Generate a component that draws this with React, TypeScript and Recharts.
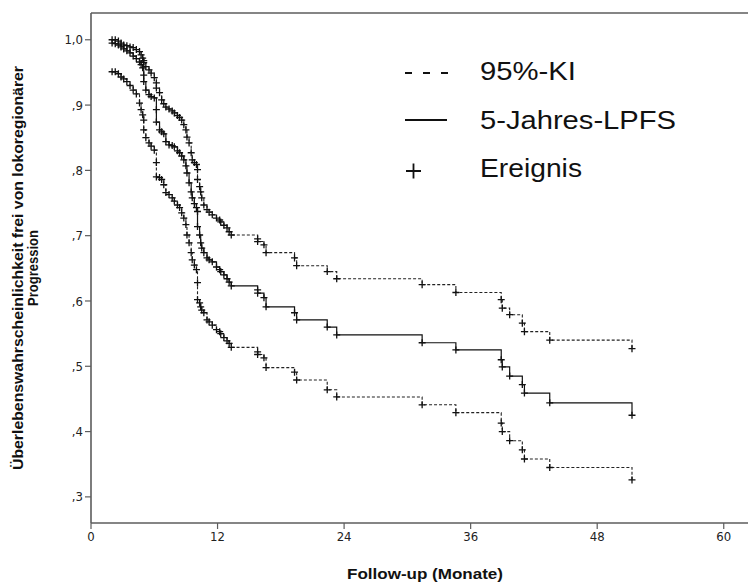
import React from "react";
import { LineChart, Line, XAxis, YAxis, ReferenceLine } from "recharts";

// Event times (months) and Kaplan-Meier estimates with 95% confidence bounds
const months = [
  2.0, 2.3, 2.6, 2.85, 3.1, 3.4, 3.7, 4.0, 4.3, 4.6, 4.75, 4.9, 5.0, 5.0, 5.2, 5.5, 5.7, 6.0, 6.2, 6.2,
  6.5, 6.7, 6.9, 7.1, 7.4, 7.7, 7.9, 8.2, 8.4, 8.6, 8.8, 9.0, 9.1, 9.3, 9.5, 9.6, 9.8, 10.0, 10.1, 10.1,
  10.3, 10.4, 10.5, 10.7, 11.0, 11.2, 11.5, 11.9, 12.2, 12.3, 12.6, 12.9, 13.1, 13.3, 15.8, 15.8, 16.4, 16.6, 19.3, 19.5,
  22.4, 23.3, 31.4, 34.6, 38.9, 39.0, 39.7, 40.9, 41.1, 43.5, 51.3,
];

const lpfs = [
  0.995, 0.994, 0.992, 0.989, 0.986, 0.983, 0.98, 0.975, 0.971, 0.966, 0.962, 0.957, 0.946, 0.936, 0.923, 0.916, 0.913, 0.911, 0.893, 0.874,
  0.862, 0.859, 0.856, 0.844, 0.839, 0.838, 0.836, 0.83, 0.827, 0.822, 0.816, 0.807, 0.796, 0.781, 0.767, 0.758, 0.749, 0.743, 0.737, 0.714,
  0.701, 0.689, 0.681, 0.674, 0.666, 0.663, 0.66, 0.652, 0.648, 0.645, 0.64, 0.634, 0.629, 0.623, 0.617, 0.612, 0.605, 0.591, 0.582, 0.571,
  0.56, 0.548, 0.536, 0.525, 0.51, 0.499, 0.485, 0.472, 0.459, 0.444, 0.425,
];

const kiUpper = [
  1.0, 1.0, 0.998, 0.995, 0.992, 0.991, 0.989, 0.988, 0.985, 0.982, 0.977, 0.972, 0.968, 0.965, 0.959, 0.954, 0.949, 0.942, 0.934, 0.926,
  0.919, 0.908, 0.902, 0.897, 0.894, 0.891, 0.888, 0.884, 0.881, 0.877, 0.87, 0.862, 0.851, 0.842, 0.827, 0.816, 0.812, 0.809, 0.801, 0.786,
  0.775, 0.767, 0.758, 0.747, 0.74, 0.736, 0.732, 0.727, 0.724, 0.721, 0.716, 0.712, 0.706, 0.701, 0.695, 0.691, 0.686, 0.674, 0.666, 0.654,
  0.645, 0.634, 0.625, 0.613, 0.602, 0.589, 0.579, 0.566, 0.553, 0.54, 0.527,
];

const kiLower = [
  0.951, 0.951, 0.948, 0.943, 0.94, 0.936, 0.93, 0.923, 0.917, 0.903, 0.893, 0.885, 0.877, 0.862, 0.85, 0.842, 0.837, 0.831, 0.812, 0.79,
  0.789, 0.786, 0.778, 0.766, 0.763, 0.758, 0.753, 0.747, 0.743, 0.735, 0.727, 0.717, 0.701, 0.689, 0.674, 0.663, 0.655, 0.648, 0.628, 0.602,
  0.597, 0.591, 0.586, 0.582, 0.571, 0.568, 0.563, 0.556, 0.553, 0.55, 0.544, 0.539, 0.535, 0.529, 0.522, 0.518, 0.513, 0.498, 0.491, 0.479,
  0.464, 0.453, 0.441, 0.429, 0.413, 0.4, 0.386, 0.372, 0.358, 0.345, 0.326,
];

const xTicks = [0, 12, 24, 36, 48, 60];
const yTicks = [0.3, 0.4, 0.5, 0.6, 0.7, 0.8, 0.9, 1.0];

const legendItems = ["95%-KI", "5-Jahres-LPFS", "Ereignis"];
const xTitle = "Follow-up (Monate)";
const yTitle = ["Überlebenswahrscheinlichkeit frei von lokoregionärer", "Progression"];

const rows = months.map((m, i) => ({ m, lpfs: lpfs[i], hi: kiUpper[i], lo: kiLower[i] }));

const W = 748;
const H = 582;
const AXIS = "#5c5c5c";
const tickFont = "'Liberation Sans Narrow', 'Arial Narrow', 'DejaVu Sans Condensed', sans-serif";
const textFont = "'Liberation Sans', Arial, sans-serif";

const fmtY = (v: number) => (Math.abs(v - 1) < 1e-9 ? "1,0" : "," + Math.round(v * 10));

const Plus = (props: any) => {
  const { cx, cy, index, dataKey } = props;
  if (cx == null || cy == null) return <g key={`${dataKey}-${index}`} />;
  return (
    <path
      key={`${dataKey}-${index}`}
      d={`M${cx - 3.5},${cy}h7M${cx},${cy - 3.5}v7`}
      stroke="#111"
      strokeWidth={1.3}
      fill="none"
    />
  );
};

export default function App() {
  return (
    <div style={{ position: "absolute", left: 0, top: 0, width: W, height: H, background: "#fff" }}>
      <LineChart width={W} height={H} data={rows} margin={{ top: 13, right: 0, bottom: 0, left: 0 }}>
        <XAxis
          dataKey="m"
          type="number"
          domain={[0, 62.3]}
          ticks={xTicks}
          allowDataOverflow
          height={59}
          tickSize={6}
          tickMargin={3}
          axisLine={{ stroke: AXIS, strokeWidth: 1.6 }}
          tickLine={{ stroke: AXIS, strokeWidth: 1.2 }}
          tick={{ fill: "#222", fontSize: 13, fontFamily: tickFont }}
        />
        <YAxis
          type="number"
          domain={[0.26, 1.041]}
          ticks={yTicks}
          allowDataOverflow
          width={91}
          tickSize={6}
          tickMargin={2}
          tickFormatter={fmtY}
          axisLine={{ stroke: AXIS, strokeWidth: 1.6 }}
          tickLine={{ stroke: AXIS, strokeWidth: 1.2 }}
          tick={{ fill: "#222", fontSize: 13, fontFamily: tickFont }}
        />
        <ReferenceLine y={1.041} stroke={AXIS} strokeWidth={1.6} ifOverflow="visible" />
        <Line
          dataKey="hi"
          type="stepAfter"
          stroke="#222"
          strokeWidth={1.1}
          strokeDasharray="3 2"
          dot={Plus}
          activeDot={false}
          isAnimationActive={false}
        />
        <Line
          dataKey="lo"
          type="stepAfter"
          stroke="#222"
          strokeWidth={1.1}
          strokeDasharray="3 2"
          dot={Plus}
          activeDot={false}
          isAnimationActive={false}
        />
        <Line
          dataKey="lpfs"
          type="stepAfter"
          stroke="#111"
          strokeWidth={1.2}
          dot={Plus}
          activeDot={false}
          isAnimationActive={false}
        />
      </LineChart>
      <svg
        width={W}
        height={H}
        style={{ position: "absolute", left: 0, top: 0, pointerEvents: "none" }}
      >
        {/* legend */}
        <g stroke="#111" strokeWidth={1.8}>
          <path d="M405,73h7M423,73h7M441,73h7" />
          <path d="M405,120h42" />
          <path d="M406,171h15M413.5,163.5v15" />
        </g>
        <g fontFamily={textFont} fontSize={25} fill="#111">
          <text x={480} y={80} textLength={96} lengthAdjust="spacingAndGlyphs">{legendItems[0]}</text>
          <text x={480} y={129} textLength={196} lengthAdjust="spacingAndGlyphs">{legendItems[1]}</text>
          <text x={480} y={177} textLength={102} lengthAdjust="spacingAndGlyphs">{legendItems[2]}</text>
        </g>
        {/* axis titles */}
        <text
          x={347}
          y={579}
          fontFamily={textFont}
          fontWeight="bold"
          fontSize={14}
          fill="#111"
          textLength={156}
          lengthAdjust="spacingAndGlyphs"
        >
          {xTitle}
        </text>
        <g fontFamily={textFont} fontWeight="bold" fontSize={14} fill="#111">
          <text transform="translate(23,470) rotate(-90)" textLength={404} lengthAdjust="spacingAndGlyphs">
            {yTitle[0]}
          </text>
          <text transform="translate(38,306) rotate(-90)" textLength={76} lengthAdjust="spacingAndGlyphs">
            {yTitle[1]}
          </text>
        </g>
      </svg>
    </div>
  );
}
